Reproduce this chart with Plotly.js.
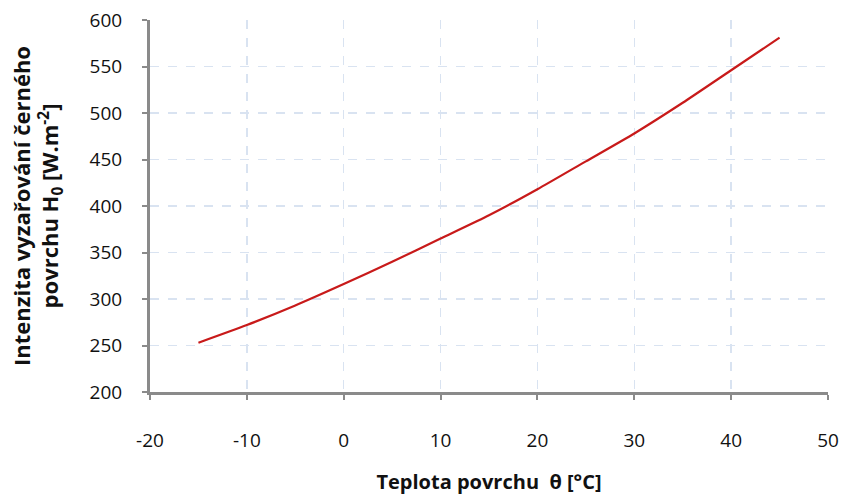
<!DOCTYPE html>
<html>
<head>
<meta charset="utf-8">
<script src="https://cdn.plot.ly/plotly-3.0.1.min.js"></script>
<style>html,body{margin:0;padding:0;background:#fff;}#chart{width:842px;height:496px;}</style>
</head>
<body>
<div id="chart"></div>
<script>
const temperature = [-15, -10, -5, 0, 5, 10, 15, 20, 25, 30, 35, 40, 45];
const intensity = [253, 272, 293, 316, 340, 365, 390, 418, 448, 478, 511, 546, 581];
const xTicks = [-20, -10, 0, 10, 20, 30, 40, 50];
const yTicks = [200, 250, 300, 350, 400, 450, 500, 550, 600];

const trace = {
  x: temperature,
  y: intensity,
  type: 'scatter',
  mode: 'lines',
  line: {color: '#c81a1a', width: 2.2, shape: 'spline', smoothing: 0.6},
  showlegend: false
};

const fontFam = 'Open Sans, Liberation Sans, sans-serif';
const layout = {
  width: 842, height: 496,
  margin: {l: 150, r: 14, t: 20, b: 104},
  paper_bgcolor: '#ffffff', plot_bgcolor: '#ffffff',
  font: {family: fontFam, size: 19, color: '#111111'},
  xaxis: {
    range: [-20, 50], tickvals: xTicks, ticktext: xTicks.map(String),
    showline: true, linecolor: '#8a8a8a', linewidth: 3,
    ticks: 'outside', ticklen: 5, tickwidth: 2, tickcolor: '#8a8a8a',
    ticklabelstandoff: 24,
    showgrid: true, gridcolor: '#d9e3f1', griddash: 'dash', gridwidth: 1.5,
    zeroline: false,
    title: {text: '<b>Teplota povrchu  θ [°C]</b>', font: {size: 20, family: fontFam, color: '#111111'}, standoff: 24}
  },
  yaxis: {
    range: [200, 600], tickvals: yTicks, ticktext: yTicks.map(String),
    showline: true, linecolor: '#8a8a8a', linewidth: 3,
    ticks: 'outside', ticklen: 5, tickwidth: 2, tickcolor: '#8a8a8a',
    ticklabelstandoff: 16,
    showgrid: true, gridcolor: '#d9e3f1', griddash: 'dash', gridwidth: 1.5,
    zeroline: false,
    title: {text: '<b>Intenzita vyzařování černého<br>povrchu H<sub>0</sub> [W.m<sup>-2</sup>]</b>', font: {size: 22, family: fontFam, color: '#111111'}, standoff: 25}
  }
};

Plotly.newPlot('chart', [trace], layout, {displayModeBar: false, staticPlot: true});
</script>
</body>
</html>
